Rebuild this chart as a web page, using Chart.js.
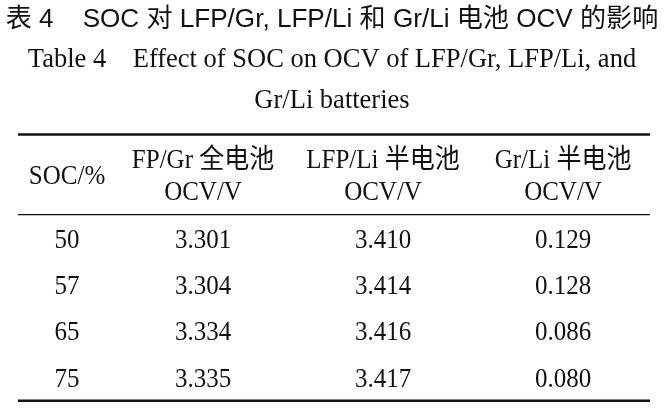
<!DOCTYPE html>
<html>
<head>
<meta charset="utf-8">
<script src="https://cdn.jsdelivr.net/npm/chart.js@4"></script>
<style>
  html, body { margin: 0; padding: 0; background: #fff; }
  #wrap { width: 664px; height: 408px; }
</style>
</head>
<body>
<div id="wrap"><canvas id="tabla"></canvas></div>
<script>
const socVals = [50, 57, 65, 75];
const ocvLfpGr = [3.301, 3.304, 3.334, 3.335];
const ocvLfpLi = [3.410, 3.414, 3.416, 3.417];
const ocvGrLi = [0.129, 0.128, 0.086, 0.080];
const headers = [['SOC/%'], ['FP/Gr 全电池', 'OCV/V'], ['LFP/Li 半电池', 'OCV/V'], ['Gr/Li 半电池', 'OCV/V']];

const SERIF = '"Liberation Serif", "Times New Roman", "Noto Sans CJK SC", serif';
const SANS = '"Liberation Sans", Arial, "Noto Sans CJK SC", sans-serif';

// each cell is one point: x = column, y = row
const celdas = [];
[socVals.map(String), ocvLfpGr.map(v => v.toFixed(3)), ocvLfpLi.map(v => v.toFixed(3)), ocvGrLi.map(v => v.toFixed(3))]
    .forEach((col, c) => col.forEach((t, r) => celdas.push({ x: c, y: r, t: t })));

const tablaPlugin = {
    id: 'tabla',
    afterDatasetsDraw(chart, args, opts) {
        const { ctx, chartArea, scales } = chart;
        const xs = scales.x, ys = scales.y;
        ctx.save();
        ctx.strokeStyle = '#111';
        // rules
        const regla = (y, w) => {
            ctx.lineWidth = w;
            ctx.beginPath();
            ctx.moveTo(chartArea.left + opts.ruleInset[0], y);
            ctx.lineTo(chartArea.right - opts.ruleInset[1], y);
            ctx.stroke();
        };
        regla(chartArea.top + 1.2, 2.5);
        regla(ys.getPixelForValue(opts.headerRule), 1.2);
        regla(chartArea.bottom - 1.2, 2.5);

        ctx.fillStyle = '#111';
        ctx.textAlign = 'center';
        ctx.textBaseline = 'middle';
        ctx.font = opts.fontSize + 'px ' + SERIF;
        const texto = (t, x, y) => {
            ctx.save();
            ctx.translate(x, y + opts.dy);
            ctx.scale(1, opts.stretch);
            ctx.fillText(t, 0, 0);
            ctx.restore();
        };
        // header
        const hy = ys.getPixelForValue(opts.headerRow);
        headers.forEach((lines, c) => {
            const x = xs.getPixelForValue(c) + opts.nudge[c];
            lines.forEach((l, i) => {
                texto(l, x, hy + (i - (lines.length - 1) / 2) * opts.headerLine);
            });
        });
        // cells
        const meta = chart.getDatasetMeta(0);
        meta.data.forEach((pt, i) => {
            const d = chart.data.datasets[0].data[i];
            texto(d.t, pt.x + opts.nudge[d.x], pt.y);
        });
        ctx.restore();
    }
};

new Chart(document.getElementById('tabla'), {
    type: 'scatter',
    data: {
        datasets: [{ data: celdas, pointRadius: 0, pointHoverRadius: 0 }]
    },
    options: {
        responsive: true,
        maintainAspectRatio: false,
        animation: false,
        events: [],
        layout: { padding: { left: 0, right: 0, bottom: 6, top: 0 } },
        scales: {
            x: { type: 'linear', display: false, min: -0.128, max: 3.561 },
            y: { type: 'linear', display: false, reverse: true, min: -2.30, max: 3.52 }
        },
        plugins: {
            legend: { display: false },
            tooltip: { enabled: false },
            title: {
                display: true,
                text: '表 4    SOC 对 LFP/Gr, LFP/Li 和 Gr/Li 电池 OCV 的影响',
                color: '#111',
                font: { family: SANS, size: 26.1, weight: 'normal', lineHeight: 1.2 },
                padding: { top: 4.5, bottom: 3.5 }
            },
            subtitle: {
                display: true,
                text: ['Table 4    Effect of SOC on OCV of LFP/Gr, LFP/Li, and', 'Gr/Li batteries'],
                color: '#111',
                font: { family: SERIF, size: 26.5, weight: 'normal', lineHeight: 41 / 26.5 },
                padding: { top: 0, bottom: 12 }
            },
            tabla: { fontSize: 25, stretch: 1.07, dy: 1.5, headerRow: -1.39, headerRule: -0.54, headerLine: 32,
                     nudge: [44, 0, 0, 0], ruleInset: [18, 14] }
        }
    },
    plugins: [tablaPlugin]
});
</script>
</body>
</html>
